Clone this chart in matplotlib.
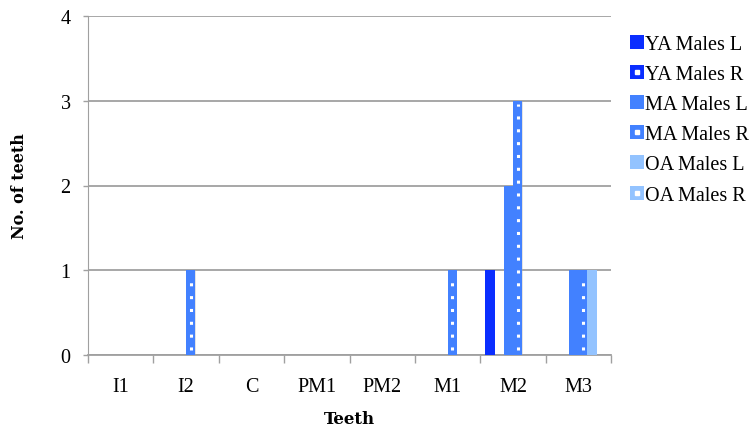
import matplotlib.pyplot as plt
from matplotlib.lines import Line2D
from matplotlib.patches import Patch
import numpy as np

# Daten
teeth = ["I1", "I2", "C", "PM1", "PM2", "M1", "M2", "M3"]
series_names = ["YA Males L", "YA Males R", "MA Males L", "MA Males R", "OA Males L", "OA Males R"]
ya_l = [0, 0, 0, 0, 0, 0, 1, 0]
ya_r = [0, 0, 0, 0, 0, 0, 0, 0]
ma_l = [0, 0, 0, 0, 0, 0, 2, 1]
ma_r = [0, 1, 0, 0, 0, 1, 3, 1]
oa_l = [0, 0, 0, 0, 0, 0, 0, 1]
oa_r = [0, 0, 0, 0, 0, 0, 0, 0]

series = [ya_l, ya_r, ma_l, ma_r, oa_l, oa_r]
colors = ["#0a2eff", "#0a2eff", "#4281ff", "#4281ff", "#93c3ff", "#93c3ff"]
dotted = [False, True, False, True, False, True]

plt.rcParams["font.family"] = ["Liberation Serif", "DejaVu Serif"]

fig = plt.figure(figsize=(7.55, 4.27), dpi=100)
ax = fig.add_axes([88/755, 1-356/427, (611-88)/755, (356-17)/427])

x = np.arange(len(teeth))
w = 0.14
dot_style = (0, (1, 3.2))

for i, (vals, col, dot) in enumerate(zip(series, colors, dotted)):
    pos = x + (i - 2.5) * w
    # leichter Schatten
    ax.bar(pos + 0.012, vals, width=w, color="#b0b0b0", alpha=0.35, zorder=2)
    ax.bar(pos, vals, width=w, color=col, zorder=3)
    if dot:
        for p, v in zip(pos, vals):
            if v > 0:
                ax.plot([p, p], [0.06, v - 0.04], color="white", lw=2.2,
                        linestyle=dot_style, zorder=4)

ax.set_xlim(-0.5, len(teeth) - 0.5)
ax.set_ylim(0, 4)
ax.set_yticks([0, 1, 2, 3, 4])
ax.set_xticks(x)
ax.set_xticklabels(teeth, fontsize=14.5)
ax.set_xticks(np.arange(-0.5, len(teeth)), minor=True)
ax.tick_params(axis="x", which="major", length=0, pad=16)
ax.tick_params(axis="x", which="minor", length=6, color="#a0a0a0", width=1)
ax.tick_params(axis="y", length=3.6, color="#a0a0a0", width=1, labelsize=14.5, pad=9)

ax.grid(axis="y", color="#a0a0a0", lw=1.3, zorder=0)
for s in ["top", "right"]:
    ax.spines[s].set_visible(False)
ax.spines["left"].set_color("#a0a0a0")
ax.spines["bottom"].set_color("#a0a0a0")
ax.spines["bottom"].set_linewidth(1.3)

ax.set_xlabel("Teeth", fontsize=12, fontweight="bold", family="DejaVu Serif", labelpad=10)
ax.set_ylabel("No. of teeth", fontsize=11.5, fontweight="bold", family="DejaVu Serif", labelpad=23)

# Legende, rechte Seite mit weißem Punkt
handles = []
for col, dot in zip(colors, dotted):
    patch = Patch(facecolor=col, edgecolor="none")
    if dot:
        handles.append((patch, Line2D([], [], marker="s", ms=2.2, color="white", lw=0)))
    else:
        handles.append(patch)
leg = ax.legend(handles, series_names, loc="upper left", bbox_to_anchor=(1.036, 0.945),
                frameon=False, fontsize=14.5, handlelength=0.7, handleheight=0.7,
                handletextpad=0.05, labelspacing=0.55, borderaxespad=0, borderpad=0)

plt.savefig("out.png", dpi=100)
plt.close()
